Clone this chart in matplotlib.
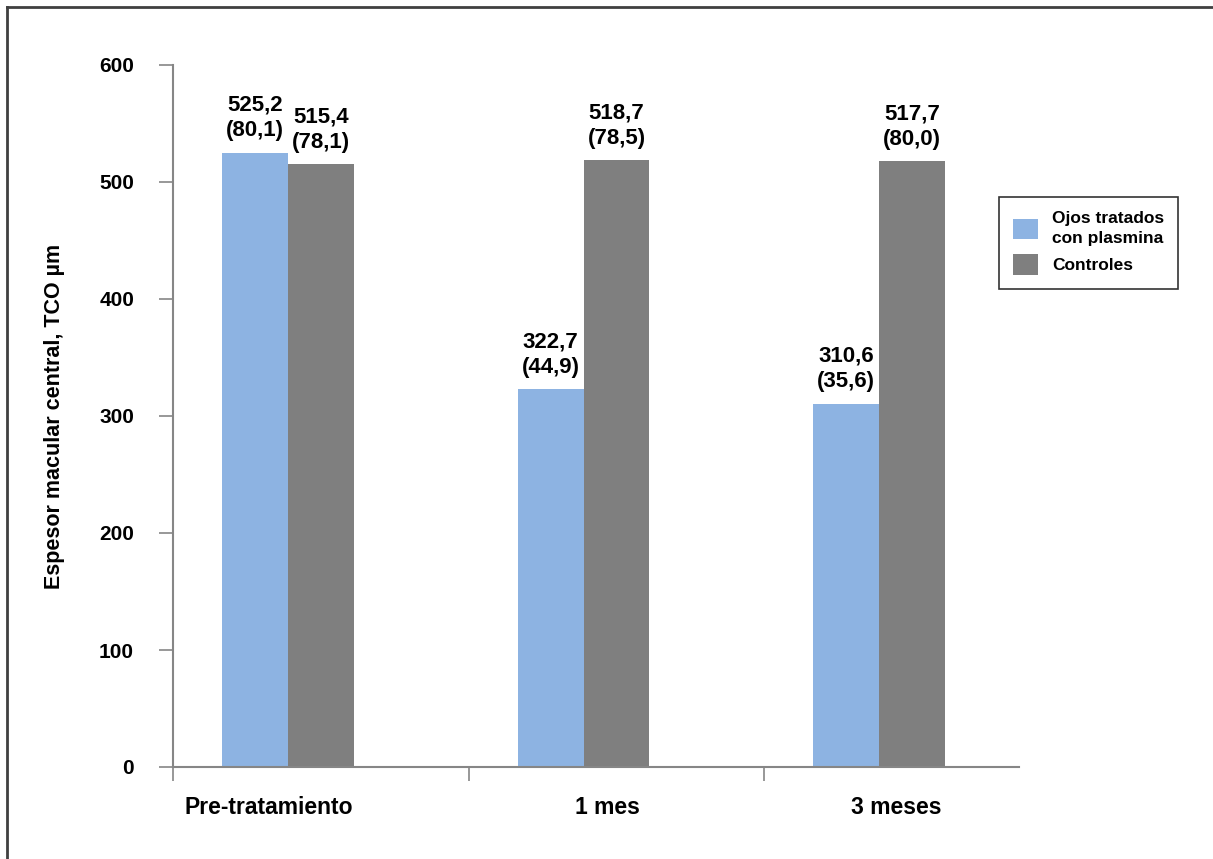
import numpy as np
import matplotlib
matplotlib.use("Agg")
import matplotlib.pyplot as plt
from matplotlib.lines import Line2D

plt.rcParams['font.family'] = ['Liberation Sans', 'DejaVu Sans']
plt.rcParams['font.weight'] = 'bold'

# Espesor macular central (TCO) por visita
categorias = ['Pre-tratamiento', '1 mes', '3 meses']
tratados = [525.2, 322.7, 310.6]
tratados_de = [80.1, 44.9, 35.6]
controles = [515.4, 518.7, 517.7]
controles_de = [78.1, 78.5, 80.0]
serie_nombres = ['Ojos tratados\ncon plasmina', 'Controles']

color_tratados = '#8DB3E2'
color_controles = '#7F7F7F'
color_eje = '#868686'


def etiqueta(media, de):
    return f"{media:.1f}\n({de:.1f})".replace('.', ',')


fig = plt.figure(figsize=(12.13, 8.59), dpi=100)
ax = fig.add_axes([173 / 1213, 1 - 767 / 859, 846 / 1213, 702 / 859])

x = np.arange(len(categorias))
ancho = 0.223

b1 = ax.bar(x - ancho, tratados, width=ancho, color=color_tratados,
            label=serie_nombres[0])
b2 = ax.bar(x, controles, width=ancho, color=color_controles,
            label=serie_nombres[1])

for barras, medias, des in [(b1, tratados, tratados_de), (b2, controles, controles_de)]:
    for rect, m, d in zip(barras, medias, des):
        ax.annotate(etiqueta(m, d), (rect.get_x() + rect.get_width() / 2, m),
                    xytext=(0, 8), textcoords='offset points',
                    ha='center', va='bottom', fontsize=16, fontweight='bold',
                    linespacing=1.3)

ax.set_ylim(0, 600)
ax.set_xlim(-0.5, 2.3615)
ax.set_yticks(range(0, 601, 100))
ax.tick_params(axis='y', direction='out', length=10, width=1.2, color=color_eje,
               pad=18, labelsize=15)

# etiquetas de categoria desplazadas hacia la izquierda
ax.set_xticks([-0.175, 0.968, 1.945])
ax.set_xticklabels(categorias, fontsize=16.5, fontweight='bold')
ax.tick_params(axis='x', which='major', length=0, pad=21)
ax.set_xticks([-0.5, 0.5, 1.5], minor=True)
ax.tick_params(axis='x', which='minor', direction='out', length=10, width=1.2,
               color=color_eje)

for lado in ['top', 'right']:
    ax.spines[lado].set_visible(False)
for lado in ['left', 'bottom']:
    ax.spines[lado].set_color(color_eje)
    ax.spines[lado].set_linewidth(1.5)

ax.set_ylabel('Espesor macular central, TCO µm', fontsize=15.5, fontweight='bold')
ax.yaxis.set_label_coords(-0.128, 0.5)

leg = ax.legend(loc='upper left', bbox_to_anchor=(999 / 1213, 1 - 197 / 859),
                bbox_transform=fig.transFigure, frameon=True, fancybox=False,
                edgecolor='black', prop={'weight': 'bold', 'size': 12.5},
                handlelength=1.45, handleheight=1.45, handletextpad=0.8,
                borderpad=0.8, labelspacing=0.45, borderaxespad=0)
leg.get_frame().set_linewidth(1.2)
for t in leg.get_texts():
    t.set_linespacing(1.45)

# marco exterior (solo lados superior e izquierdo)
fig.add_artist(Line2D([7 / 1213, 7 / 1213], [0, 1 - 7 / 859],
                      transform=fig.transFigure, color='#404040', lw=2))
fig.add_artist(Line2D([7 / 1213, 1], [1 - 7 / 859, 1 - 7 / 859],
                      transform=fig.transFigure, color='#404040', lw=2))

fig.savefig('out.png', dpi=100, facecolor='white')
